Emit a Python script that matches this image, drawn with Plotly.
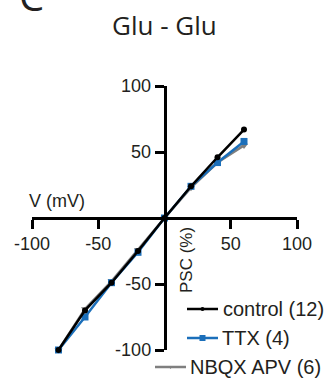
import plotly.graph_objects as go

# Figure size in pixels
W, H = 329, 383

# Current-voltage relationship (PSC normalised to -80 mV)
voltage = [-80, -60, -40, -20, 0, 20, 40, 60]
psc_control = [-100, -70, -49, -25, 0, 24, 46, 67]
psc_ttx = [-100, -75, -49, -26, 0, 24, 42, 58]
psc_nbqx = [-100, -69, -48, -24, 0, 23, 42, 55]

x_ticks = [-100, -50, 50, 100]
y_ticks = [100, 50, -50, -100]
legend_labels = ["control (12)", "TTX (4)", "NBQX APV (6)"]

# Plot area of the data axes, in pixels
X0, X1 = 32, 297
Y_TOP, Y_BOT = 86, 350

INK = "#231f20"
BLUE = "#1b6fba"
GREY = "#7f7f7f"
TICK_FONT = dict(family="Liberation Sans, Arial, sans-serif", size=18, color=INK)

fig = go.Figure()

series = [
    ("NBQX APV (6)", psc_nbqx, GREY, "triangle-down", 7, 2.5),
    ("TTX (4)", psc_ttx, BLUE, "square", 7, 2.5),
    ("control (12)", psc_control, "black", "circle", 6, 2.5),
]
for name, vals, color, symbol, msize, lw in series:
    fig.add_trace(go.Scatter(
        x=voltage, y=vals, name=name, mode="lines+markers",
        line=dict(color=color, width=lw),
        marker=dict(color=color, symbol=symbol, size=msize),
        xaxis="x", yaxis="y", showlegend=False, cliponaxis=False,
    ))

# Hand-drawn legend on a pixel-space overlay
legend_rows = [
    # label, colour, symbol, marker size, line x-start, line x-end, y, text x
    (legend_labels[0], "black", "circle", 4, 187, 218, 309, 221),
    (legend_labels[1], BLUE, "square", 6, 187, 218, 338, 220),
    (legend_labels[2], GREY, "triangle-down", 4, 155, 186, 367, 188),
]
annotations = []
for label, color, symbol, msize, xa, xb, yy, xt in legend_rows:
    fig.add_trace(go.Scatter(
        x=[xa, xb], y=[yy, yy], mode="lines",
        line=dict(color=color, width=2.5),
        xaxis="x2", yaxis="y2", showlegend=False, hoverinfo="skip",
    ))
    fig.add_trace(go.Scatter(
        x=[(xa + xb) / 2], y=[yy], mode="markers",
        marker=dict(color=color, symbol=symbol, size=msize),
        xaxis="x2", yaxis="y2", showlegend=False, hoverinfo="skip",
    ))
    annotations.append(dict(
        x=xt, y=yy, xref="x2", yref="y2", text=label, showarrow=False,
        xanchor="left", yanchor="middle",
        font=dict(family="Liberation Sans, Arial, sans-serif", size=20, color=INK),
    ))

annotations += [
    dict(x=164, y=25, xref="x2", yref="y2", text="Glu - Glu", showarrow=False,
         xanchor="center", yanchor="middle",
         font=dict(family="Open Sans, sans-serif", size=26, color=INK)),
    # panel letter, mostly cut off by the top edge
    dict(x=31 / W, y=(H + 5) / H, xref="paper", yref="paper", text="C",
         showarrow=False, xanchor="center", yanchor="middle",
         font=dict(family="Open Sans, sans-serif", size=40, color=INK)),
    dict(x=57, y=201, xref="x2", yref="y2", text="V (mV)", showarrow=False,
         xanchor="center", yanchor="middle",
         font=dict(family="Liberation Sans, Arial, sans-serif", size=18, color=INK)),
    dict(x=186, y=260, xref="x2", yref="y2", text="PSC (%)", showarrow=False,
         xanchor="center", yanchor="middle", textangle=-90,
         font=dict(family="Liberation Sans, Arial, sans-serif", size=17, color=INK)),
]

axis_common = dict(
    showline=True, linecolor="black", linewidth=2.5,
    ticks="outside", ticklen=9, tickwidth=2.5, tickcolor="black",
    showgrid=False, zeroline=False, tickfont=TICK_FONT,
    fixedrange=True, automargin=False,
)

fig.update_layout(
    width=W, height=H,
    margin=dict(l=0, r=0, t=0, b=0, pad=0, autoexpand=False),
    paper_bgcolor="white", plot_bgcolor="rgba(0,0,0,0)",
    showlegend=False,
    xaxis=dict(
        domain=[X0 / W, X1 / W], range=[-100, 100],
        anchor="free", position=(H - (Y_TOP + Y_BOT) / 2) / H,
        tickvals=x_ticks, ticktext=[str(v) for v in x_ticks],
        **axis_common,
    ),
    yaxis=dict(
        domain=[(H - Y_BOT) / H, (H - Y_TOP) / H], range=[-100, 100],
        anchor="free", position=((X0 + X1) / 2) / W,
        tickvals=y_ticks, ticktext=[str(v) for v in y_ticks],
        **axis_common,
    ),
    xaxis2=dict(domain=[0, 1], range=[0, W], visible=False, anchor="y2",
                fixedrange=True),
    yaxis2=dict(domain=[0, 1], range=[H, 0], visible=False, anchor="x2",
                fixedrange=True),
    annotations=annotations,
)

fig.write_html("out.html")
